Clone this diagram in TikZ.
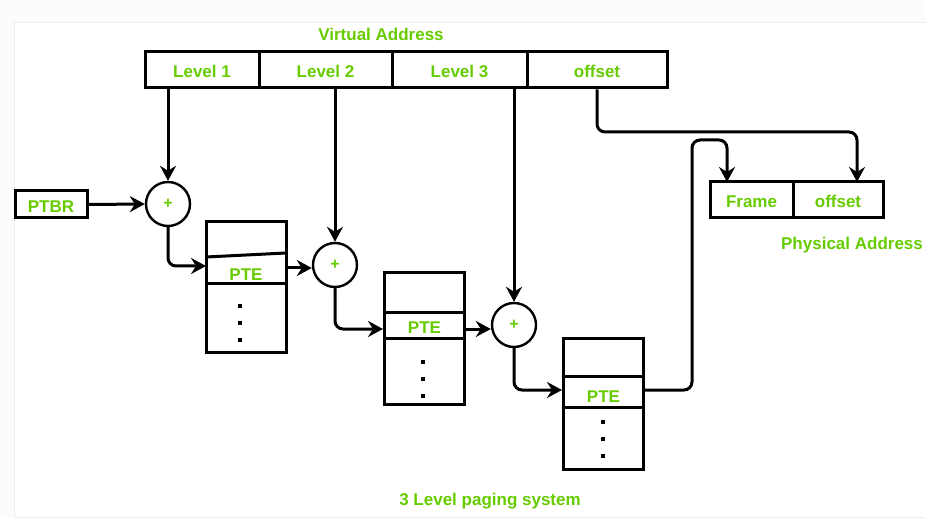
\documentclass[tikz,border=0pt]{standalone}
\usepackage{fontspec}
\setmainfont{Liberation Sans}
\usetikzlibrary{arrows.meta}
\definecolor{lbl}{RGB}{102,204,0}
\tikzset{
  lw/.style={line width=3pt},
  cell/.style={draw, lw, rectangle, inner sep=0pt, minimum height=36pt, text=lbl,
               text height=16pt, text depth=0pt,
               font=\fontsize{17}{20}\selectfont\bfseries},
  adder/.style={draw, line width=2.4pt, circle, minimum size=44pt, inner sep=0pt, text=lbl,
                font=\fontsize{16}{18}\selectfont\bfseries},
  tablebox/.style={draw, lw, rectangle, inner sep=0pt, minimum width=80pt},
  title/.style={text=lbl, font=\fontsize{17}{20}\selectfont\bfseries, inner sep=0pt},
  pte/.style={text=lbl, font=\fontsize{17}{20}\selectfont\bfseries, inner sep=0pt},
  link/.style={lw, rounded corners=8pt, -{Stealth[length=15pt,width=16pt,inset=5pt]}},
  dot/.style={fill, inner sep=0pt, minimum size=3.8pt, rectangle},
}
\begin{document}
\begin{tikzpicture}[x=1pt, y=-1pt]
  % canvas and faint panel
  \fill[black!1] (0,0) rectangle (925,518);
  \useasboundingbox (0,0) rectangle (925,518);
  \filldraw[fill=white, draw=black!7, line width=1pt] (14,23) rectangle (930,517);

  % virtual address fields
  \node[title] (vtitle) at (381,34) {Virtual Address};
  \node[cell, minimum width=114pt] (l1) at (202,70) {Level 1};
  \node[cell, minimum width=133pt] (l2) at (325.5,70) {Level 2};
  \node[cell, minimum width=135pt] (l3) at (459.5,70) {Level 3};
  \node[cell, minimum width=140pt] (voff) at (597,70) {offset};

  % base register
  \node[cell, minimum width=72pt, minimum height=27pt] (ptbr) at (51,204.5) {PTBR};

  % adders
  \node[adder] (c1) at (168,204) {+};
  \node[adder] (c2) at (335,265) {+};
  \node[adder] (c3) at (514,325) {+};

  % first-level table
  \node[tablebox, minimum height=130pt] (t1) at (246,287) {};
  \draw[lw] (206,257) -- (286,253);
  \draw[lw] (206,284) -- (286,284);
  \node[pte] (p1) at (246,275) {PTE};
  \foreach \y in {306,323,340} \node[dot] at (240,\y) {};
  \coordinate (t1in) at (206,266);
  \coordinate (t1out) at (286,268);

  % second-level table
  \node[tablebox, minimum height=131pt] (t2) at (424.5,338.5) {};
  \draw[lw] (t2.west |- 0,312) -- (t2.east |- 0,312);
  \draw[lw] (t2.west |- 0,338) -- (t2.east |- 0,338);
  \node[pte] (p2) at (424.5,328) {PTE};
  \foreach \y in {362,379,396} \node[dot] at (423,\y) {};
  \coordinate (t2in) at (t2.west |- 0,329);
  \coordinate (t2out) at (t2.east |- 0,329);

  % third-level table
  \node[tablebox, minimum height=131pt] (t3) at (603.5,403.5) {};
  \draw[lw] (t3.west |- 0,376) -- (t3.east |- 0,376);
  \draw[lw] (t3.west |- 0,407) -- (t3.east |- 0,407);
  \node[pte] (p3) at (603.5,397) {PTE};
  \foreach \y in {422,439,456} \node[dot] at (603,\y) {};
  \coordinate (t3in) at (t3.west |- 0,390);
  \coordinate (t3out) at (t3.east |- 0,390);

  % physical address fields
  \node[cell, minimum width=83pt] (pf) at (751.5,200) {Frame};
  \node[cell, minimum width=90pt] (poff) at (838,200) {offset};
  \node[title] (ptitle) at (852,245) {Physical Address};
  \coordinate (pfin) at (727,182);
  \coordinate (poffin) at (857,182);

  \node[title] (caption) at (490,501) {3 Level paging system};

  % connectors
  \draw[link] (l1.south -| c1) -- (c1.north);
  \draw[link] (ptbr.east) -- (c1.west);
  \draw[link] (c1.south) |- (t1in);
  \draw[link] (t1out) -- (c2.west |- t1out);
  \draw[link] (l2.south -| c2) -- (c2.north);
  \draw[link] (c2.south) |- (t2in);
  \draw[link] (t2out) -- (c3.west |- t2out);
  \draw[link] (l3.south -| c3) -- (c3.north);
  \draw[link] (c3.south) |- (t3in);
  \draw[link] (t3out) -- (692,390) -- (692,140) -- (727,140) -- (pfin);
  \draw[link] (voff.south) -- (597,132) -- (857,132) -- (poffin);
\end{tikzpicture}
\end{document}
